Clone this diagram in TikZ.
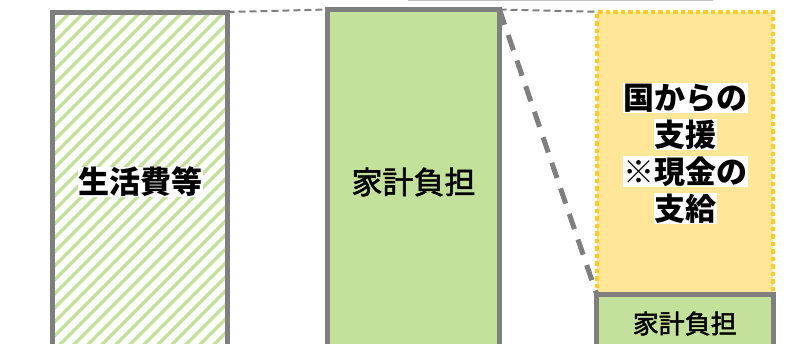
\documentclass[tikz,border=0pt]{standalone}
\usepackage{fontspec}
\setmainfont{Noto Sans CJK JP}
\newfontfamily\jpmed[FakeBold=1.8]{Noto Sans CJK JP}
\usepackage{xcolor}

\definecolor{lineGray}{HTML}{7F7F7F}
\definecolor{topGray}{HTML}{BFBFBF}
\definecolor{barGreen}{RGB}{196,225,155}
\definecolor{aidYellow}{HTML}{FFE699}
\definecolor{aidGold}{RGB}{255,204,41}

% 文字の白背景
\newcommand{\hl}[1]{{\setlength{\fboxsep}{0.5pt}\colorbox{white}{#1}}}

\tikzset{
  bar/.style={draw=lineGray, line width=5pt, inner sep=0pt, outer sep=0pt},
  guide/.style={lineGray, line width=2pt, dash pattern=on 7pt off 4pt},
  shrink/.style={lineGray, line width=5pt, dash pattern=on 16pt off 11pt},
}

\begin{document}
\begin{tikzpicture}[x=1pt, y=-1pt,
    big/.style={font=\fontsize{31}{37}\selectfont},
    small/.style={font=\fontsize{26}{30}\selectfont}]
    \useasboundingbox (0,0) rectangle (792,343);

    % 上端の線
    \coordinate (topL) at (408,0.5);
    \coordinate (topR) at (713,0.5);
    \draw[topGray, line width=1.5pt] (topL) -- (topR);

    % 生活費等（斜線）
    \node[bar, big, minimum width=175pt, minimum height=340pt,
        path picture={
            \foreach \i in {-350,-336,...,190}
                \draw[barGreen, line width=3.5pt]
                    ([xshift=\i pt]path picture bounding box.south west) -- ++(360pt,360pt);
        }] (life) at (140,182) {\bfseries\hl{生活費等}};

    % 家計負担
    \node[bar, big, fill=barGreen, minimum width=172pt, minimum height=345pt]
        (burden) at (413.5,182) {\jpmed 家計負担};

    % 国からの支援
    \node[draw=aidGold, fill=aidYellow, line width=4.5pt, dash pattern=on 4.5pt off 3pt,
        outer sep=0pt, big, align=center, minimum width=176pt, minimum height=283.5pt]
        (aid) at (685,153.5) {\bfseries\hl{国からの}\\\bfseries\hl{支援}\\\bfseries\hl{※現金の}\\\bfseries\hl{支給}};

    % 家計負担（小）
    \node[bar, small, fill=barGreen, minimum width=176.5pt, minimum height=59pt]
        (rest) at (684.75,323.5) {\jpmed 家計負担};

    % 点線
    \draw[guide] (life.north east) -- (burden.north west);
    \draw[guide] (burden.north east) -- (aid.north west);
    \draw[shrink] (burden.north east) -- (aid.south west);
\end{tikzpicture}
\end{document}
